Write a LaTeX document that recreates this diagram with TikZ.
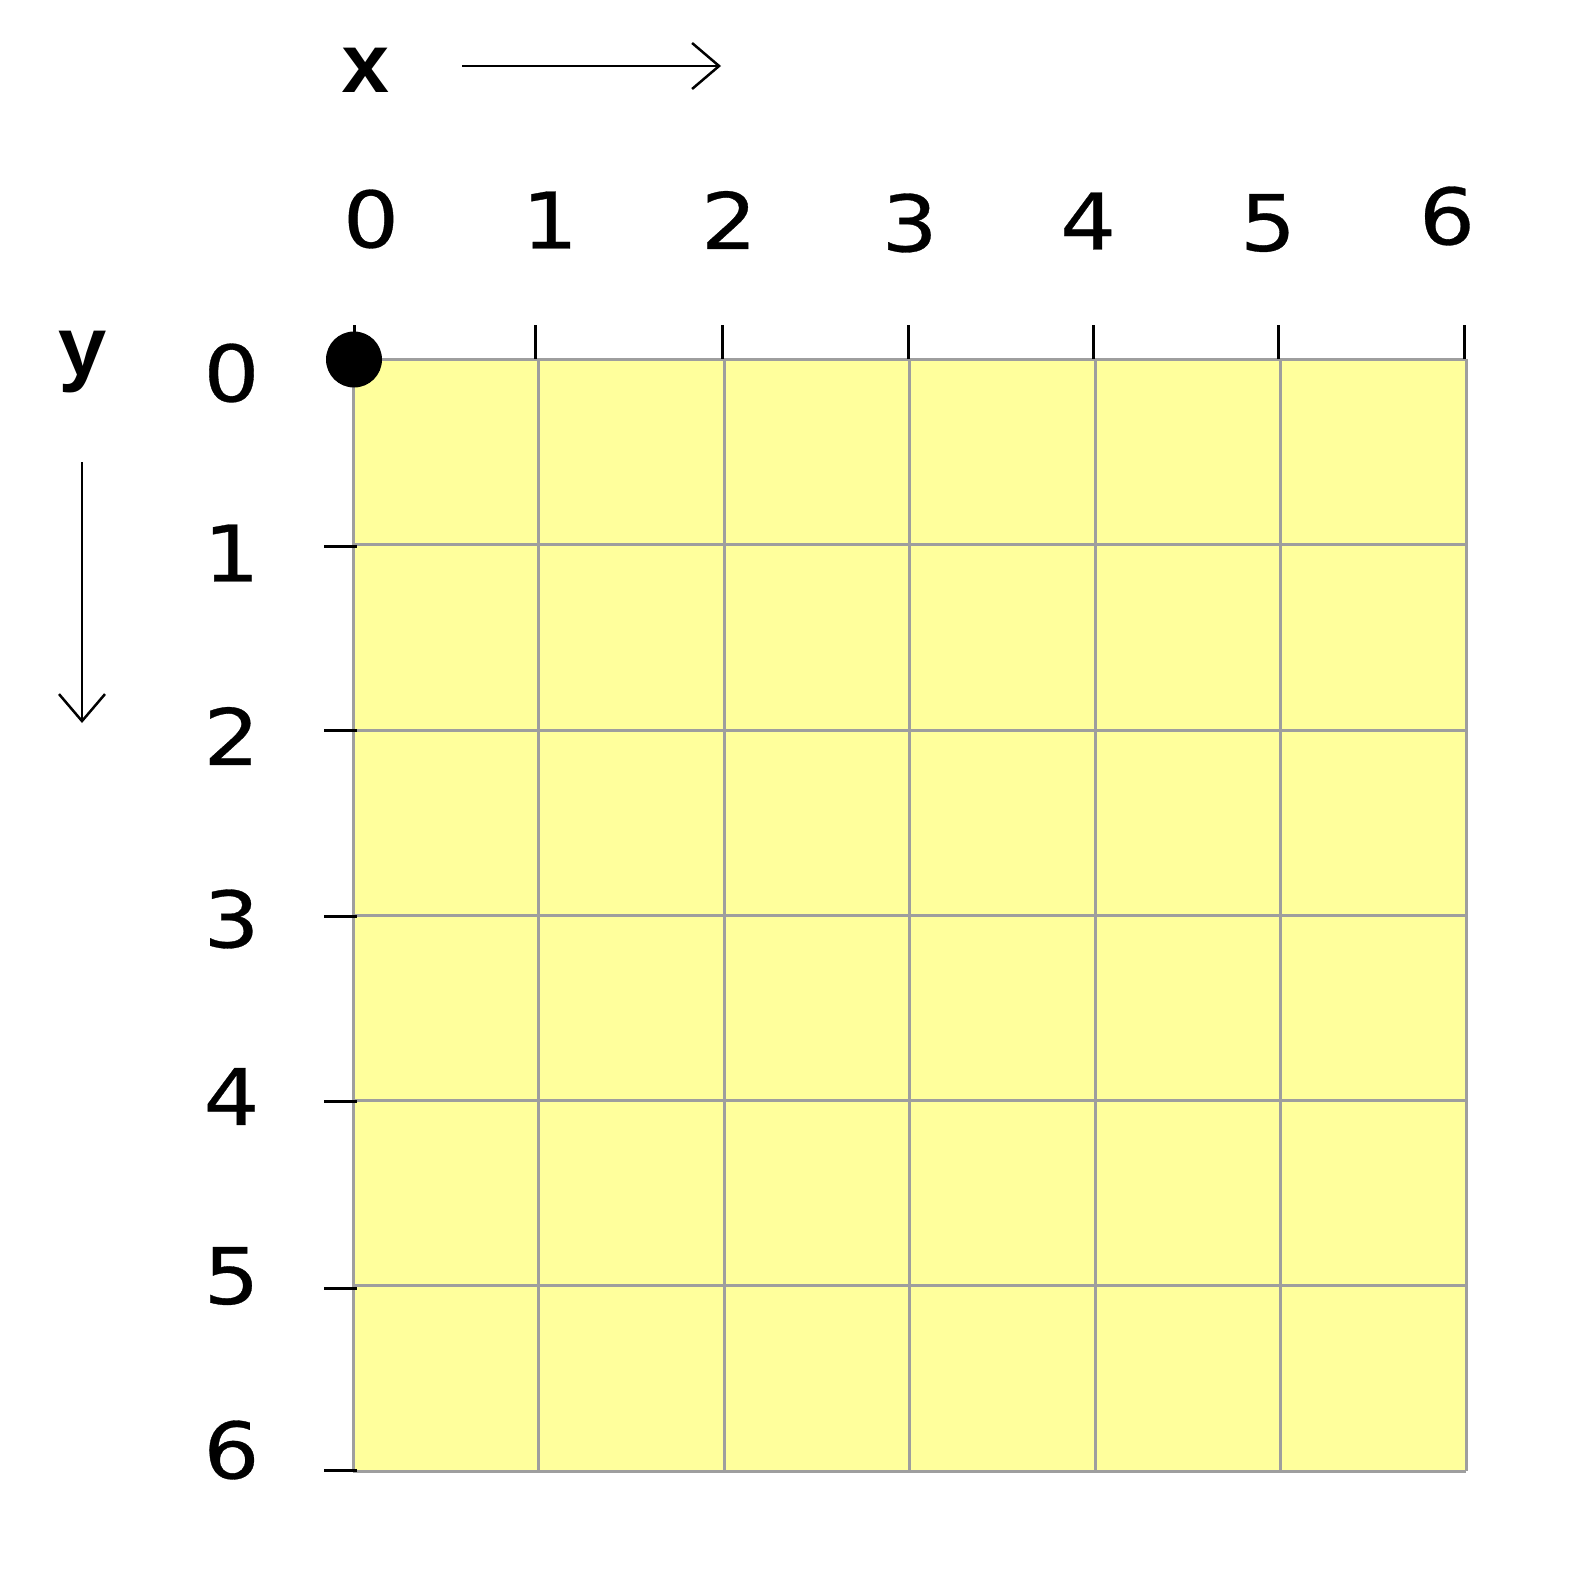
\documentclass[tikz,border=0pt]{standalone}
\usepackage{fontspec}
\setmainfont{DejaVu Sans}
\newfontfamily\digitfont[FakeStretch=1.13,FakeBold=0.4]{DejaVu Sans}
\newfontfamily\axmono{Liberation Mono Bold}
\usetikzlibrary{arrows.meta}
\definecolor{cellyellow}{RGB}{255,255,156}
\definecolor{gridgray}{RGB}{158,158,158}
\begin{document}
\begin{tikzpicture}[x=1pt,y=-1pt,
  numlabel/.style={inner sep=0pt,anchor=center,font=\digitfont\fontsize{78}{78}\selectfont},
  axlabel/.style={inner sep=0pt,anchor=center,font=\axmono\fontsize{84}{84}\selectfont},
  gridline/.style={draw=gridgray,line width=3pt},
  tickline/.style={draw=black,line width=3pt},
  axarrow/.style={draw=black,line width=2.5pt,-{Straight Barb[length=27pt,width=46pt,line width=2.5pt]}}]
\useasboundingbox (0,0) rectangle (1592,1576);
% grid
\fill[cellyellow] (353.3,359.4) rectangle (1466.1,1471.2);
\foreach \i in {0,...,6}{
  \draw[gridline] ({353.3+185.47*\i},359.4) -- ({353.3+185.47*\i},1471.2);
  \draw[gridline] (353.3,{359.4+185.3*\i}) -- (1466.1,{359.4+185.3*\i});
}
% top ticks
\foreach \xx in {354.3,535.1,722.9,908.7,1093.5,1278.3,1464.1}{
  \draw[tickline] (\xx,325) -- (\xx,359.4);
}
% left ticks
\foreach \yy in {546,730,916,1101.6,1288,1470}{
  \draw[tickline] (324,\yy) -- (357,\yy);
}
% origin dot
\fill[black] (354,359.5) circle (28);
% top labels
\node[numlabel] (tx0) at (371,219) {0};
\node[numlabel] (tx1) at (550,220) {1};
\node[numlabel] (tx2) at (729,220) {2};
\node[numlabel] (tx3) at (909.7,223) {3};
\node[numlabel] (tx4) at (1088,221) {4};
\node[numlabel] (tx5) at (1268,223) {5};
\node[numlabel] (tx6) at (1447,216) {6};
% left labels
\node[numlabel] (ly0) at (231.5,373) {0};
\node[numlabel] (ly1) at (231.5,553) {1};
\node[numlabel] (ly2) at (231.5,736) {2};
\node[numlabel] (ly3) at (231.5,919) {3};
\node[numlabel] (ly4) at (231.5,1096.5) {4};
\node[numlabel] (ly5) at (231.5,1276) {5};
\node[numlabel] (ly6) at (231.5,1450) {6};
% axis names and arrows
\node[axlabel] (xname) at (366,70.5) {x};
\node[axlabel] (yname) at (83,362) {y};
\coordinate (xa0) at (462,66);
\coordinate (xa1) at (721,66);
\coordinate (ya0) at (82,462);
\coordinate (ya1) at (82,723);
\draw[axarrow] (xa0) -- (xa1);
\draw[axarrow] (ya0) -- (ya1);
\end{tikzpicture}
\end{document}
